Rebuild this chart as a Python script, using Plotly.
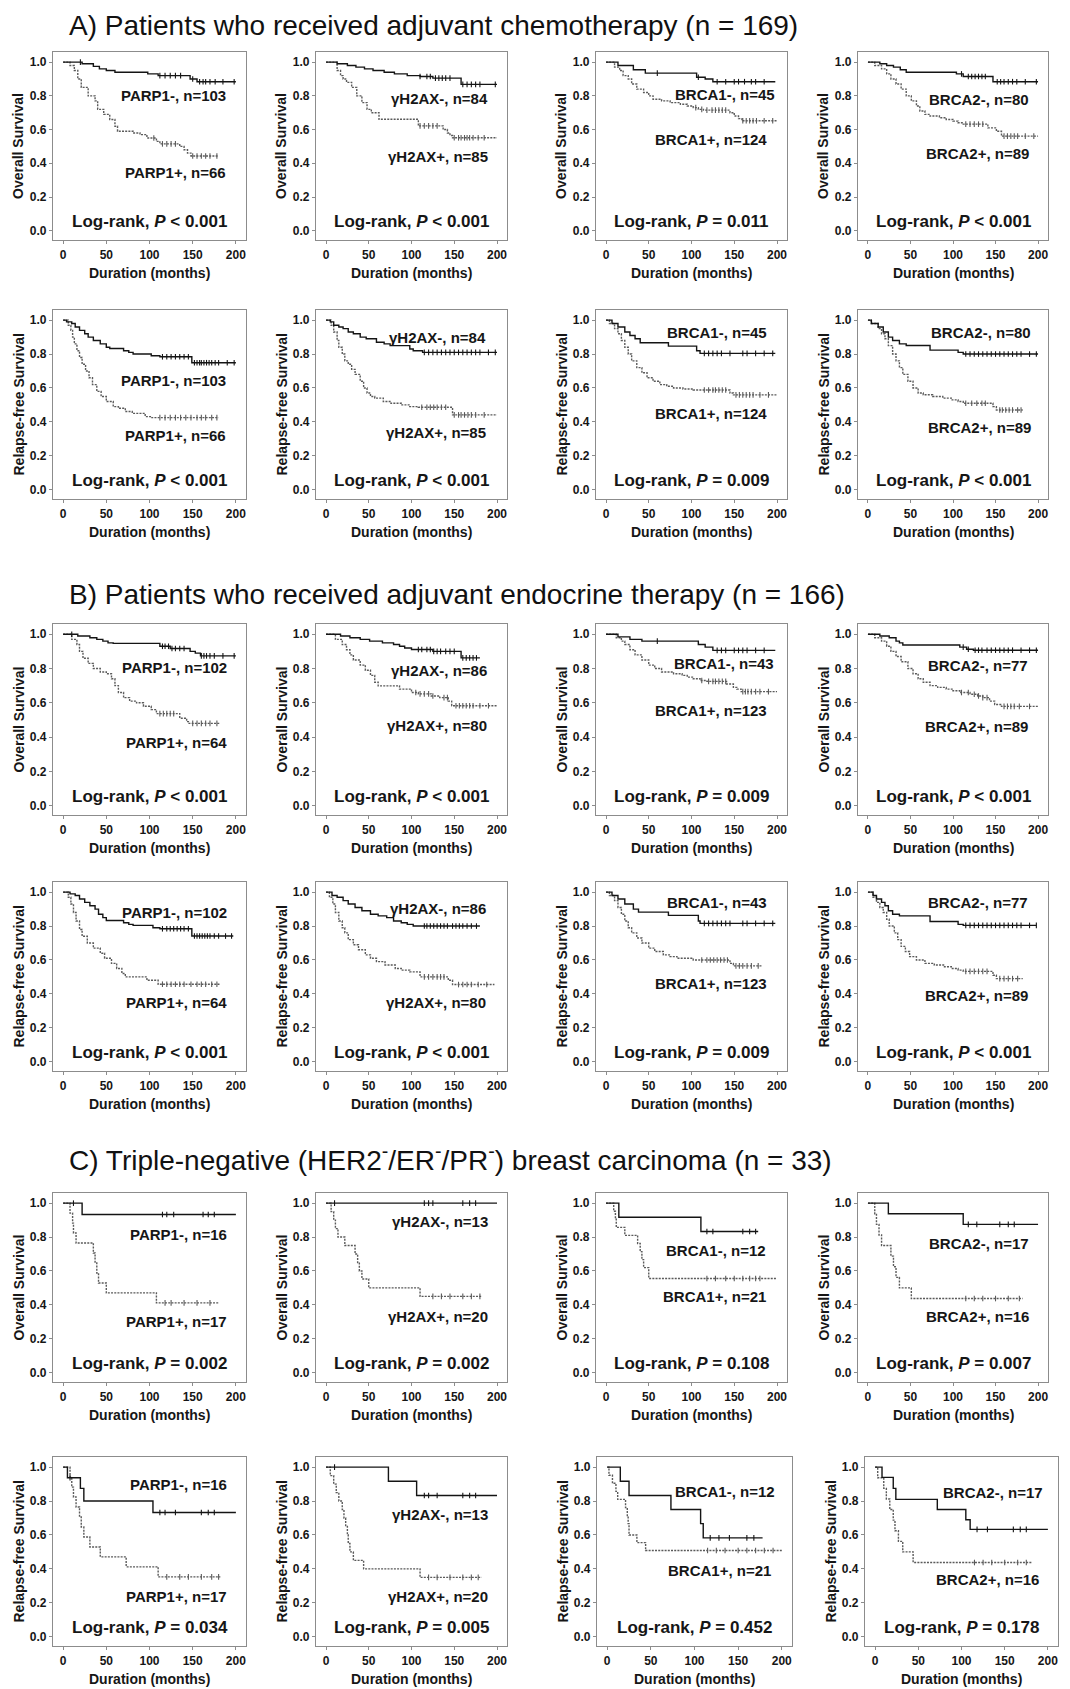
import numpy as np
import plotly.graph_objects as go

# ---------------- DATA ----------------
ROW_TITLES = ["Overall Survival", "Relapse-free Survival"] * 3
X_TICKS = [0, 50, 100, 150, 200]
Y_TICKS = [0.0, 0.2, 0.4, 0.6, 0.8, 1.0]
SECTION_TITLES = [
    "A) Patients who received adjuvant chemotherapy (n = 169)",
    "B) Patients who received adjuvant endocrine therapy (n = 166)",
    "C) Triple-negative (HER2<sup>-</sup>/ER<sup>-</sup>/PR<sup>-</sup>) breast carcinoma (n = 33)",
]
MARKERS = ["PARP1", "γH2AX", "BRCA1", "BRCA2"]
N_AB_A = [(103, 66), (84, 85), (45, 124), (80, 89)]
N_AB_B = [(102, 64), (86, 80), (43, 123), (77, 89)]
N_AB_C = [(16, 17), (13, 20), (12, 21), (17, 16)]
P_VALUES = [
    ["< 0.001", "< 0.001", "= 0.011", "< 0.001"],
    ["< 0.001", "< 0.001", "= 0.009", "< 0.001"],
    ["< 0.001", "< 0.001", "= 0.009", "< 0.001"],
    ["< 0.001", "< 0.001", "= 0.009", "< 0.001"],
    ["= 0.002", "= 0.002", "= 0.108", "= 0.007"],
    ["= 0.034", "= 0.005", "= 0.452", "= 0.178"],
]

A_OS_PARP1 = dict(
    neg_t=[0, 22, 35, 42, 50, 60, 98, 110, 147, 155, 200],
    neg_s=[1, .99, .975, .96, .95, .94, .93, .92, .90, .884, .884],
    neg_c=[20, 112, 118, 124, 130, 136, 150, 158, 162, 165, 170, 176, 185, 198],
    pos_t=[0, 8, 13, 17, 21, 29, 37, 40, 47, 54, 60, 63, 81, 89, 97, 108, 112, 135, 140, 144, 148, 180],
    pos_s=[1, .98, .95, .90, .85, .80, .77, .72, .69, .66, .62, .59, .58, .57, .55, .53, .515, .50, .48, .46, .443, .443],
    pos_c=[105, 115, 120, 125, 130, 150, 155, 160, 165, 170, 178])
A_OS_H2AX = dict(
    neg_t=[0, 13, 25, 35, 45, 55, 68, 80, 95, 110, 125, 158, 200],
    neg_s=[1, .99, .98, .97, .96, .95, .94, .93, .92, .915, .905, .868, .868],
    neg_c=[110, 118, 122, 128, 132, 136, 140, 145, 160, 165, 170, 175, 180, 198],
    pos_t=[0, 13, 17, 20, 24, 30, 36, 42, 48, 53, 62, 108, 137, 142, 145, 148, 200],
    pos_s=[1, .95, .92, .90, .88, .85, .80, .76, .72, .70, .661, .622, .60, .58, .565, .551, .551],
    pos_c=[110, 115, 120, 125, 130, 150, 155, 158, 162, 165, 168, 172, 178, 185])
A_OS_BRCA1 = dict(
    neg_t=[0, 14, 32, 46, 106, 116, 125, 198],
    neg_s=[1, .98, .955, .935, .91, .90, .884, .884],
    neg_c=[60, 108, 130, 140, 150, 155, 162, 170, 175, 185],
    pos_t=[0, 10, 16, 20, 26, 30, 36, 44, 50, 55, 65, 75, 87, 95, 102, 108, 114, 145, 150, 155, 159, 200],
    pos_s=[1, .97, .95, .92, .90, .87, .84, .82, .80, .78, .77, .76, .75, .74, .73, .72, .715, .70, .68, .665, .652, .652],
    pos_c=[105, 112, 118, 124, 128, 132, 136, 140, 160, 164, 168, 172, 176, 185, 195])
A_OS_BRCA2 = dict(
    neg_t=[0, 14, 22, 30, 38, 45, 104, 112, 147, 200],
    neg_s=[1, .99, .98, .97, .955, .94, .93, .915, .884, .884],
    neg_c=[110, 118, 122, 126, 130, 134, 138, 152, 156, 160, 165, 170, 175, 185, 198],
    pos_t=[0, 8, 16, 22, 27, 33, 39, 45, 51, 57, 61, 67, 73, 84, 92, 100, 106, 112, 141, 151, 157, 200],
    pos_s=[1, .98, .96, .93, .90, .87, .84, .80, .77, .74, .71, .69, .68, .67, .66, .65, .64, .632, .61, .59, .561, .561],
    pos_c=[115, 120, 125, 130, 135, 160, 164, 168, 172, 176, 185, 195])

A_RFS_PARP1 = dict(
    neg_t=[0, 4, 10, 14, 19, 25, 29, 35, 43, 50, 54, 70, 76, 81, 102, 112, 149, 200],
    neg_s=[1, .99, .98, .96, .94, .92, .90, .88, .86, .84, .833, .82, .81, .80, .79, .784, .749, .749],
    neg_c=[115, 120, 125, 130, 135, 140, 145, 152, 155, 158, 160, 163, 166, 169, 172, 176, 180, 190, 198],
    pos_t=[0, 6, 9, 11, 13, 16, 19, 22, 26, 30, 34, 39, 44, 50, 58, 64, 72, 80, 95, 102, 180],
    pos_s=[1, .97, .94, .90, .86, .82, .78, .74, .70, .66, .62, .58, .55, .52, .49, .48, .461, .45, .431, .425, .425],
    pos_c=[112, 118, 124, 130, 136, 142, 148, 155, 160, 165, 172, 178])
A_RFS_H2AX = dict(
    neg_t=[0, 5, 9, 15, 20, 26, 32, 40, 47, 59, 68, 75, 98, 102, 113, 200],
    neg_s=[1, .99, .97, .96, .95, .93, .92, .90, .89, .87, .86, .85, .83, .82, .81, .81],
    neg_c=[115, 120, 125, 130, 135, 140, 145, 150, 155, 160, 165, 170, 175, 180, 190, 198],
    pos_t=[0, 6, 9, 13, 15, 19, 22, 26, 30, 34, 40, 44, 48, 52, 57, 67, 76, 88, 98, 108, 148, 200],
    pos_s=[1, .97, .93, .88, .84, .80, .76, .74, .71, .68, .64, .60, .57, .55, .54, .52, .51, .50, .49, .486, .441, .441],
    pos_c=[112, 118, 122, 126, 130, 135, 140, 150, 155, 158, 162, 166, 170, 175, 185])
A_RFS_BRCA1 = dict(
    neg_t=[0, 7, 14, 22, 28, 34, 40, 73, 106, 110, 198],
    neg_s=[1, .98, .96, .93, .91, .89, .867, .847, .82, .804, .804],
    neg_c=[115, 120, 125, 130, 135, 145, 160, 165, 175, 185, 195],
    pos_t=[0, 4, 10, 14, 18, 22, 26, 30, 36, 42, 48, 55, 63, 71, 79, 90, 102, 145, 149, 200],
    pos_s=[1, .98, .95, .92, .88, .84, .80, .76, .72, .69, .66, .64, .62, .61, .60, .594, .588, .57, .559, .559],
    pos_c=[115, 120, 125, 128, 132, 136, 140, 152, 156, 160, 164, 168, 172, 180, 190])
A_RFS_BRCA2 = dict(
    neg_t=[0, 4, 12, 18, 24, 29, 37, 45, 73, 106, 112, 200],
    neg_s=[1, .98, .96, .93, .90, .88, .86, .851, .823, .81, .80, .80],
    neg_c=[115, 120, 125, 130, 135, 140, 145, 150, 155, 160, 165, 170, 175, 180, 190, 198],
    pos_t=[0, 4, 12, 16, 20, 24, 29, 33, 37, 41, 47, 53, 59, 65, 76, 88, 98, 106, 112, 147, 151, 182],
    pos_s=[1, .98, .95, .92, .89, .85, .80, .76, .72, .68, .64, .60, .57, .56, .55, .54, .53, .52, .51, .49, .47, .47],
    pos_c=[115, 122, 128, 134, 138, 155, 158, 162, 166, 170, 176, 180])

B_OS_PARP1 = dict(
    neg_t=[0, 17, 31, 39, 46, 52, 58, 112, 124, 147, 153, 159, 200],
    neg_s=[1, .99, .98, .97, .96, .95, .947, .93, .917, .90, .89, .874, .874],
    neg_c=[10, 115, 118, 122, 126, 130, 135, 140, 160, 163, 166, 170, 175, 185, 198],
    pos_t=[0, 10, 16, 19, 23, 29, 35, 43, 50, 56, 60, 64, 70, 77, 85, 93, 102, 108, 135, 143, 145, 182],
    pos_s=[1, .97, .94, .90, .86, .83, .80, .78, .77, .74, .70, .66, .63, .61, .60, .58, .56, .537, .51, .49, .48, .48],
    pos_c=[112, 116, 120, 124, 128, 150, 155, 160, 165, 170, 178])
B_OS_H2AX = dict(
    neg_t=[0, 17, 28, 40, 51, 66, 79, 86, 92, 100, 125, 158, 180],
    neg_s=[1, .99, .98, .97, .96, .95, .94, .93, .92, .911, .90, .862, .862],
    neg_c=[108, 112, 118, 122, 126, 130, 134, 140, 145, 150, 160, 164, 168, 172, 176],
    pos_t=[0, 11, 19, 24, 28, 32, 40, 46, 52, 57, 61, 86, 100, 108, 123, 133, 143, 147, 200],
    pos_s=[1, .97, .94, .91, .88, .85, .82, .79, .76, .72, .699, .68, .66, .652, .64, .63, .61, .583, .583],
    pos_c=[105, 110, 115, 120, 125, 138, 142, 152, 156, 160, 164, 168, 172, 180, 190])
B_OS_BRCA1 = dict(
    neg_t=[0, 14, 28, 42, 108, 116, 125, 198],
    neg_s=[1, .985, .97, .96, .94, .925, .906, .906],
    neg_c=[60, 130, 135, 140, 150, 155, 160, 165, 175, 185],
    pos_t=[0, 12, 18, 22, 28, 34, 42, 50, 57, 65, 79, 89, 95, 102, 110, 118, 141, 149, 153, 158, 200],
    pos_s=[1, .98, .96, .94, .91, .88, .85, .82, .80, .78, .77, .76, .75, .74, .73, .725, .71, .69, .68, .665, .665],
    pos_c=[112, 120, 125, 128, 132, 136, 140, 160, 163, 166, 170, 175, 180, 190])
B_OS_BRCA2 = dict(
    neg_t=[0, 14, 25, 33, 37, 41, 108, 116, 124, 200],
    neg_s=[1, .99, .98, .96, .95, .937, .925, .913, .907, .907],
    neg_c=[112, 118, 126, 130, 134, 140, 145, 150, 155, 160, 165, 170, 180, 190, 198],
    pos_t=[0, 8, 16, 22, 27, 33, 39, 47, 53, 59, 65, 73, 82, 92, 100, 108, 120, 129, 135, 143, 149, 157, 200],
    pos_s=[1, .98, .96, .93, .90, .87, .84, .80, .77, .74, .72, .70, .69, .68, .67, .66, .65, .64, .63, .61, .59, .579, .579],
    pos_c=[110, 118, 125, 130, 135, 140, 160, 164, 168, 172, 178, 190])

B_RFS_PARP1 = dict(
    neg_t=[0, 8, 14, 19, 25, 31, 37, 41, 46, 50, 70, 76, 81, 104, 112, 149, 197],
    neg_s=[1, .99, .98, .96, .94, .92, .90, .87, .85, .833, .82, .81, .804, .79, .784, .741, .741],
    neg_c=[115, 120, 124, 128, 132, 136, 140, 145, 152, 155, 158, 161, 164, 167, 170, 175, 180, 188, 195],
    pos_t=[0, 6, 9, 12, 15, 19, 22, 28, 35, 43, 48, 56, 62, 68, 72, 97, 110, 182],
    pos_s=[1, .97, .93, .88, .83, .78, .74, .70, .67, .64, .61, .58, .55, .52, .50, .48, .457, .457],
    pos_c=[115, 120, 125, 130, 135, 140, 148, 155, 160, 165, 172, 178])
B_RFS_H2AX = dict(
    neg_t=[0, 7, 13, 20, 26, 34, 42, 52, 61, 71, 79, 88, 95, 102, 180],
    neg_s=[1, .98, .97, .95, .93, .91, .89, .87, .86, .85, .83, .82, .81, .80, .80],
    neg_c=[115, 118, 122, 126, 130, 134, 138, 142, 148, 152, 156, 160, 165, 170, 176],
    pos_t=[0, 4, 8, 11, 15, 19, 22, 26, 32, 38, 46, 52, 59, 69, 81, 88, 98, 110, 143, 148, 197],
    pos_s=[1, .97, .93, .88, .83, .79, .76, .72, .69, .66, .63, .61, .59, .57, .55, .54, .53, .50, .48, .455, .455],
    pos_c=[115, 120, 125, 130, 134, 138, 155, 160, 165, 170, 178, 188])
B_RFS_BRCA1 = dict(
    neg_t=[0, 7, 14, 22, 32, 38, 73, 108, 110, 198],
    neg_s=[1, .98, .96, .93, .90, .882, .863, .83, .816, .816],
    neg_c=[115, 120, 125, 130, 135, 140, 145, 160, 165, 175, 185, 195],
    pos_t=[0, 4, 10, 14, 18, 22, 26, 30, 36, 42, 50, 57, 67, 75, 83, 102, 145, 149, 182],
    pos_s=[1, .98, .95, .91, .87, .83, .79, .76, .73, .70, .67, .65, .63, .62, .61, .60, .58, .565, .565],
    pos_c=[112, 118, 122, 126, 130, 134, 138, 142, 152, 156, 160, 165, 170, 178])
B_RFS_BRCA2 = dict(
    neg_t=[0, 6, 10, 16, 20, 24, 29, 37, 73, 106, 112, 198],
    neg_s=[1, .98, .96, .94, .92, .89, .87, .86, .827, .81, .804, .804],
    neg_c=[115, 120, 125, 130, 135, 140, 145, 150, 155, 160, 165, 170, 175, 180, 190, 198],
    pos_t=[0, 6, 10, 14, 18, 22, 25, 31, 35, 39, 44, 49, 57, 67, 78, 90, 98, 106, 112, 147, 151, 182],
    pos_s=[1, .97, .94, .91, .88, .84, .80, .76, .72, .68, .65, .62, .60, .58, .57, .56, .55, .54, .533, .51, .49, .49],
    pos_c=[115, 120, 125, 130, 135, 140, 155, 160, 165, 170, 176])

C_OS_PARP1 = dict(
    neg_t=[0, 22, 200], neg_s=[1, .933, .933],
    neg_c=[12, 115, 120, 128, 162, 168, 175],
    pos_t=[0, 8, 11, 12, 15, 35, 37, 39, 41, 50, 108, 180],
    pos_s=[1, .941, .882, .824, .765, .706, .647, .588, .529, .471, .412, .412],
    pos_c=[118, 125, 140, 155, 170])
C_OS_H2AX = dict(
    neg_t=[0, 200], neg_s=[1, 1],
    neg_c=[10, 115, 120, 125, 160, 168, 175],
    pos_t=[0, 6, 9, 11, 14, 22, 34, 37, 39, 42, 50, 110, 182],
    pos_s=[1, .95, .90, .85, .80, .75, .70, .65, .60, .553, .50, .45, .45],
    pos_c=[125, 135, 145, 160, 170, 180])
C_OS_BRCA1 = dict(
    neg_t=[0, 15, 111, 178], neg_s=[1, .917, .833, .833],
    neg_c=[118, 125, 160, 168, 175],
    pos_t=[0, 9, 11, 12, 22, 37, 40, 42, 44, 50, 200],
    pos_s=[1, .952, .905, .857, .81, .762, .714, .667, .62, .556, .556],
    pos_c=[118, 128, 140, 150, 160, 168, 175, 180])
C_OS_BRCA2 = dict(
    neg_t=[0, 24, 112, 200], neg_s=[1, .9375, .875, .875],
    neg_c=[118, 128, 155, 165, 172],
    pos_t=[0, 8, 10, 13, 16, 27, 30, 33, 37, 51, 182],
    pos_s=[1, .9375, .875, .8125, .75, .6875, .625, .5625, .50, .4375, .4375],
    pos_c=[115, 125, 135, 150, 165, 178])

C_RFS_PARP1 = dict(
    neg_t=[0, 5, 20, 24, 104, 200], neg_s=[1, .9375, .875, .80, .733, .733],
    neg_c=[8, 112, 118, 130, 160, 168, 175],
    pos_t=[0, 8, 10, 12, 15, 19, 21, 24, 31, 43, 73, 110, 182],
    pos_s=[1, .941, .882, .824, .765, .706, .647, .588, .529, .471, .412, .353, .353],
    pos_c=[120, 135, 145, 160, 172, 180])
C_RFS_H2AX = dict(
    neg_t=[0, 73, 106, 200], neg_s=[1, .917, .833, .833],
    neg_c=[10, 115, 120, 130, 160, 168, 175],
    pos_t=[0, 5, 9, 12, 15, 19, 21, 23, 25, 26, 28, 32, 44, 110, 182],
    pos_s=[1, .95, .90, .85, .80, .75, .70, .65, .60, .55, .50, .45, .40, .35, .35],
    pos_c=[120, 130, 145, 160, 170, 178])
C_RFS_BRCA1 = dict(
    neg_t=[0, 15, 25, 73, 107, 110, 178], neg_s=[1, .917, .833, .75, .667, .583, .583],
    neg_c=[118, 128, 140, 160, 168],
    pos_t=[0, 2, 6, 10, 12, 21, 23, 24, 25, 34, 44, 200],
    pos_s=[1, .952, .905, .857, .81, .762, .714, .667, .60, .555, .508, .508],
    pos_c=[115, 125, 135, 150, 160, 170, 180, 190])
C_RFS_BRCA2 = dict(
    neg_t=[0, 8, 21, 24, 72, 105, 110, 200], neg_s=[1, .94, .875, .81, .75, .69, .633, .633],
    neg_c=[118, 130, 160, 168, 175],
    pos_t=[0, 3, 10, 13, 17, 21, 23, 27, 32, 44, 181],
    pos_s=[1, .9375, .875, .8125, .75, .6875, .625, .5625, .50, .4375, .4375],
    pos_c=[115, 125, 135, 150, 165, 175])

PANELS = [
    [A_OS_PARP1, A_OS_H2AX, A_OS_BRCA1, A_OS_BRCA2],
    [A_RFS_PARP1, A_RFS_H2AX, A_RFS_BRCA1, A_RFS_BRCA2],
    [B_OS_PARP1, B_OS_H2AX, B_OS_BRCA1, B_OS_BRCA2],
    [B_RFS_PARP1, B_RFS_H2AX, B_RFS_BRCA1, B_RFS_BRCA2],
    [C_OS_PARP1, C_OS_H2AX, C_OS_BRCA1, C_OS_BRCA2],
    [C_RFS_PARP1, C_RFS_H2AX, C_RFS_BRCA1, C_RFS_BRCA2],
]
N_ROWS = [N_AB_A, N_AB_A, N_AB_B, N_AB_B, N_AB_C, N_AB_C]

# ---------------- LAYOUT (positions / styles) ----------------
PAGE_W, PAGE_H = 1070, 1689
OFF = 8                      # default body margin of the html page
W, H = PAGE_W - OFF, PAGE_H - OFF
FONT = "Liberation Sans, Arial, Helvetica, sans-serif"
COL_PX = [(53, 246), (316, 507), (596, 787), (858, 1048)]
COL_PX_LAST_ROW = [(53, 246), (316, 507), (597, 792), (865, 1058)]
ROW_PX = [(52, 240), (310, 499), (624, 815), (882, 1071), (1193, 1382), (1457, 1646)]
TITLE_Y_PX = [25, 594, 1158]
TITLE_X_PX = 67
# (neg label x, neg label y, pos label x, pos label y) in data units
LABEL_POS = [
    [(191, .80, 191, .343), (192, .787, 192, .44), (200, .81, 191, .54), (192, .78, 192, .456)],
    [(191, .647, 191, .318), (190, .90, 190, .335), (191, .93, 191, .447), (194, .93, 194, .365)],
    [(192, .805, 192, .367), (191, .787, 191, .467), (199, .83, 191, .556), (190, .817, 190, .46)],
    [(192, .88, 192, .347), (190, .906, 190, .347), (191, .94, 191, .46), (190, .94, 190, .388)],
    [(192, .818, 192, .30), (192, .89, 192, .33), (190, .72, 190, .447), (192, .76, 192, .33)],
    [(192, .90, 192, .235), (192, .72, 192, .235), (195, .855, 190, .39), (197, .853, 192, .336)],
]
TXT = "#161616"
NEG_COLOR = "#141414"
POS_COLOR = "#5a5a5a"
BOX_COLOR = "#8c8c8c"

fig = go.Figure()
layout = dict(
    width=W, height=H, margin=dict(l=0, r=0, t=0, b=0),
    paper_bgcolor="white", plot_bgcolor="white", showlegend=False,
    font=dict(family=FONT, color=TXT),
)
annotations = []


def step_at(t, s, ct):
    t = np.asarray(t, float)
    idx = np.searchsorted(t, np.asarray(ct, float), side="right") - 1
    idx = np.clip(idx, 0, len(s) - 1)
    return [s[i] for i in idx]


for r in range(6):
    cols = COL_PX_LAST_ROW if r == 5 else COL_PX
    for c in range(4):
        k = r * 4 + c + 1
        xn = "x" if k == 1 else f"x{k}"
        yn = "y" if k == 1 else f"y{k}"
        p = PANELS[r][c]
        for grp, col, dash, wid in (("pos", POS_COLOR, "2px,1.2px", 1.4), ("neg", NEG_COLOR, "solid", 1.4)):
            t, s, cz = p[grp + "_t"], p[grp + "_s"], p[grp + "_c"]
            fig.add_trace(go.Scatter(x=t, y=s, mode="lines", xaxis=xn, yaxis=yn,
                                     line=dict(shape="hv", color=col, width=wid, dash=dash),
                                     hoverinfo="skip"))
            fig.add_trace(go.Scatter(x=cz, y=step_at(t, s, cz), mode="markers", xaxis=xn, yaxis=yn,
                                     marker=dict(symbol="line-ns", size=4, line=dict(width=1.1, color=col)),
                                     hoverinfo="skip"))
        x0, x1 = cols[c]
        y0, y1 = ROW_PX[r]
        axcommon = dict(showline=True, linecolor=BOX_COLOR, linewidth=1.3, mirror=True,
                        ticks="outside", ticklen=3, tickwidth=1, tickcolor=BOX_COLOR,
                        showgrid=False, zeroline=False,
                        tickfont=dict(family=FONT, size=12, color=TXT, weight="bold"))
        layout["xaxis" if k == 1 else f"xaxis{k}"] = dict(
            domain=[(x0 - OFF) / W, (x1 - OFF) / W], range=[-11.7, 211.7], anchor=yn,
            tickvals=X_TICKS, **axcommon)
        layout["yaxis" if k == 1 else f"yaxis{k}"] = dict(
            domain=[1 - (y1 - OFF) / H, 1 - (y0 - OFF) / H], range=[-0.055, 1.06], anchor=xn,
            tickvals=Y_TICKS, tickformat=".1f", **axcommon)

        # axis titles
        annotations.append(dict(text=ROW_TITLES[r], xref=f"{xn} domain", yref=f"{yn} domain",
                                x=0, y=0.5, xshift=-35, textangle=-90, showarrow=False,
                                xanchor="center", yanchor="middle",
                                font=dict(family=FONT, size=14, color=TXT, weight="bold")))
        annotations.append(dict(text="Duration (months)", xref=f"{xn} domain", yref=f"{yn} domain",
                                x=0.5, y=0, yshift=-33, showarrow=False,
                                xanchor="center", yanchor="middle",
                                font=dict(family=FONT, size=14, color=TXT, weight="bold")))
        # group labels
        nneg, npos = N_ROWS[r][c]
        lx1, ly1, lx2, ly2 = LABEL_POS[r][c]
        annotations.append(dict(text=f"{MARKERS[c]}-, n={nneg}", xref=xn, yref=yn, x=lx1, y=ly1,
                                xanchor="right", yanchor="middle", showarrow=False,
                                font=dict(family=FONT, size=15, color=TXT, weight="bold")))
        annotations.append(dict(text=f"{MARKERS[c]}+, n={npos}", xref=xn, yref=yn, x=lx2, y=ly2,
                                xanchor="right", yanchor="middle", showarrow=False,
                                font=dict(family=FONT, size=15, color=TXT, weight="bold")))
        pv = P_VALUES[r][c].replace("<", "&lt;")
        annotations.append(dict(text=f"Log-rank, <i>P</i> {pv}", xref=f"{xn} domain", yref=yn,
                                x=0.5, y=0.055, xanchor="center", yanchor="middle", showarrow=False,
                                font=dict(family=FONT, size=17, color=TXT, weight="bold")))

for i, ttl in enumerate(SECTION_TITLES):
    annotations.append(dict(text=ttl, xref="paper", yref="paper",
                            x=(TITLE_X_PX - OFF) / W, y=1 - (TITLE_Y_PX[i] - OFF) / H,
                            xanchor="left", yanchor="middle", showarrow=False,
                            font=dict(family=FONT, size=28, color="#111111")))

layout["annotations"] = annotations
fig.update_layout(**layout)
fig.write_html("out.html")
